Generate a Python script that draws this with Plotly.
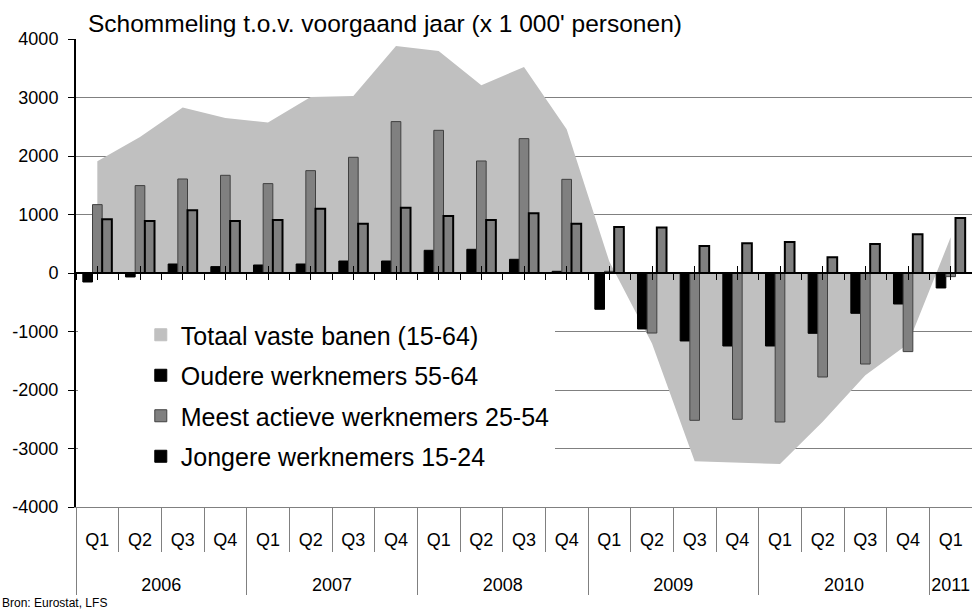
import plotly.graph_objects as go

years = ["2006"] * 4 + ["2007"] * 4 + ["2008"] * 4 + ["2009"] * 4 + ["2010"] * 4 + ["2011"]
quarters = ["Q1", "Q2", "Q3", "Q4"] * 5 + ["Q1"]

totaal = [1910, 2325, 2827, 2650, 2571, 3009, 3026, 3880, 3795, 3209, 3521, 2456,
          195, -1207, -3218, -3241, -3265, -2541, -1749, -1212, 610]
jongere = [-154, -68, 154, 109, 137, 154, 205, 205, 388, 405, 234, 29,
           -620, -957, -1162, -1248, -1248, -1031, -689, -530, -256]
meest_actieve = [1169, 1494, 1607, 1670, 1528, 1750, 1978, 2588, 2439, 1915, 2297, 1601,
                 29, -1026, -2518, -2501, -2547, -1778, -1556, -1344, -62]
oudere = [918, 889, 1072, 889, 906, 1100, 844, 1117, 974, 906, 1020, 844,
          786, 776, 462, 508, 530, 268, 496, 662, 940]

y_tickvals = [-4000, -3000, -2000, -1000, 0, 1000, 2000, 3000, 4000]
y_ticktext = ["-4000", "-3000", "-2000", "-1000", "0", "1000", "2000", "3000", "4000"]

legend_names = ["Totaal vaste banen (15-64)", "Oudere werknemers 55-64",
                "Meest actieve werknemers 25-54", "Jongere werknemers 15-24"]
legend_colors = ["#C0C0C0", "#000000", "#808080", "#000000"]
legend_lines = ["#C0C0C0", "#000000", "#404040", "#000000"]

FONT = "Liberation Sans, Arial, sans-serif"
n = len(quarters)
SPAN = "<span style='font-size:18px'>%s</span>"
year_labels = ["<br><br>" + SPAN % y for y in years]
quarter_labels = [SPAN % q for q in quarters]
x = [year_labels, quarter_labels]
cat_range = [-0.5, n - 0.5]

fig = go.Figure()

# area on the main category axis (drawn underneath)
fig.add_trace(go.Scatter(x=x, y=totaal, mode="lines", fill="tozeroy",
                         fillcolor="#C0C0C0", line=dict(width=0, color="#C0C0C0"),
                         showlegend=False, hoverinfo="skip"))
# bars on an overlaid category axis (drawn on top of the area)
fig.add_trace(go.Bar(x=x, y=jongere, xaxis="x2",
                     marker=dict(color="#000000", line=dict(color="#000000", width=1)),
                     showlegend=False))
fig.add_trace(go.Bar(x=x, y=meest_actieve, xaxis="x2",
                     marker=dict(color="#808080", line=dict(color="#404040", width=1)),
                     showlegend=False))
fig.add_trace(go.Bar(x=x, y=oudere, xaxis="x2",
                     marker=dict(color="#808080", line=dict(color="#000000", width=2)),
                     showlegend=False))

# legend-only entries
for i, (nm, c, lc) in enumerate(zip(legend_names, legend_colors, legend_lines)):
    fig.add_trace(go.Bar(x=[None], y=[None], name=nm, xaxis="x3",
                         marker=dict(color=c, line=dict(color=lc, width=1)),
                         legendgroup="g%d" % i, showlegend=True))

fig.add_trace(go.Scatter(x=[None], y=[None], xaxis="x4", showlegend=False, hoverinfo="skip"))
fig.add_trace(go.Scatter(x=[None], y=[None], xaxis="x5", showlegend=False, hoverinfo="skip"))

fig.update_layout(
    width=972, height=613,
    margin=dict(l=76, r=0, t=39, b=106),
    paper_bgcolor="white", plot_bgcolor="white",
    font=dict(family=FONT, size=18, color="black"),
    barmode="group", bargap=0.32, bargroupgap=0,
    title=dict(text="Schommeling t.o.v. voorgaand jaar (x 1 000' personen)",
               font=dict(family=FONT, size=24.5, color="black"),
               x=88 / 972, xref="container", xanchor="left",
               y=1 - 23 / 613, yref="container", yanchor="middle"),
    xaxis=dict(type="multicategory", range=cat_range, showline=True, linecolor="#808080",
               linewidth=1, ticks="", ticklabelstandoff=19,
               showdividers=True, dividercolor="#808080", dividerwidth=1,
               showgrid=False, zeroline=False, tickfont=dict(size=16)),
    xaxis2=dict(type="multicategory", range=cat_range, overlaying="x", anchor="y", visible=False),
    xaxis3=dict(overlaying="x", anchor="free", position=0.5, range=cat_range,
                showline=True, linecolor="black", linewidth=1.5,
                tickmode="linear", tick0=0, dtick=1, ticks="inside", ticklen=6,
                tickcolor="black", tickwidth=1, showticklabels=False, showgrid=False,
                zeroline=False),
    xaxis4=dict(overlaying="x", anchor="free", position=0.5, range=cat_range,
                showline=False, tickmode="linear", tick0=0.5, dtick=0.5, ticks="outside",
                ticklen=6, tickcolor="black", tickwidth=1, showticklabels=False,
                showgrid=False, zeroline=False),
    xaxis5=dict(overlaying="x", anchor="free", position=0, range=cat_range,
                showline=False, tickmode="linear", tick0=0.5, dtick=1, ticks="outside",
                ticklen=44, tickcolor="#808080", tickwidth=1, showticklabels=False,
                showgrid=False, zeroline=False),
    yaxis=dict(range=[-4000, 4000], tickmode="array", tickvals=y_tickvals, ticktext=y_ticktext,
               showgrid=True, gridcolor="#808080", gridwidth=1,
               showline=True, linecolor="black", linewidth=2,
               ticks="outside", ticklen=6, tickcolor="black", tickwidth=1,
               zeroline=False, tickfont=dict(size=18), ticklabelstandoff=6),
    legend=dict(x=0.002, xanchor="left", y=(507 - 312) / 468, yanchor="top",
                bgcolor="white", borderwidth=0, font=dict(family=FONT, size=25, color="black"),
                traceorder="grouped", tracegroupgap=5, indentation=63, itemwidth=30),
    annotations=[dict(text="Bron: Eurostat, LFS", xref="paper", yref="paper",
                      x=-76 / 896, y=-(603 - 507) / 468, xanchor="left", yanchor="middle",
                      showarrow=False, font=dict(family=FONT, size=12, color="black"))],
)

fig.write_html("out.html", config={"displayModeBar": False},
               post_script="document.body.style.margin='0';document.body.style.overflow='hidden';")
